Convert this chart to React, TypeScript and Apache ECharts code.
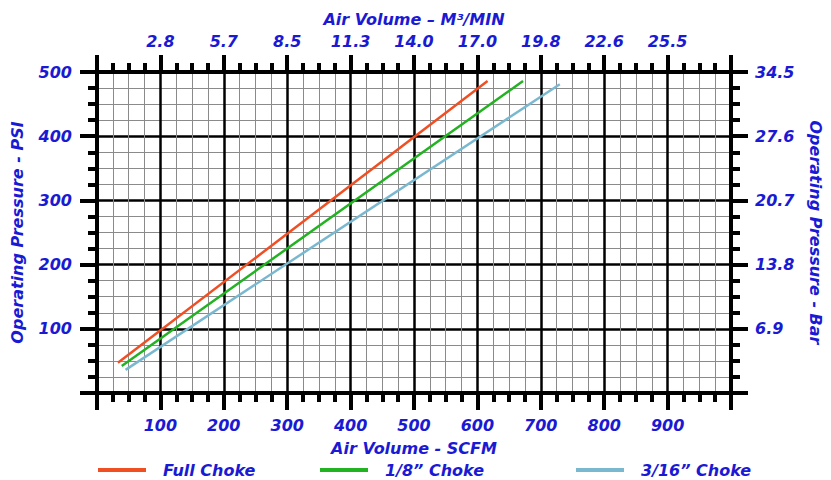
import React, { useEffect, useRef } from "react";
import * as echarts from "echarts";

const scfmTicks = [100, 200, 300, 400, 500, 600, 700, 800, 900];
const m3Labels = ["2.8", "5.7", "8.5", "11.3", "14.0", "17.0", "19.8", "22.6", "25.5"];
const psiTicks = [100, 200, 300, 400, 500];
const barLabels = ["6.9", "13.8", "20.7", "27.6", "34.5"];

const seriesNames = ["Full Choke", "1/8\u201D Choke", "3/16\u201D Choke"];
const seriesColors = ["#f04e23", "#22b222", "#7ab8d0"];
const fullChoke = [[33, 47], [616, 486]];
const eighthChoke = [[39, 42], [672, 486]];
const sixteenthChoke = [[45, 36], [730, 481]];

const BLUE = "#1a1ad4";
const FONT = "DejaVu Sans";

function App() {
  const ref = useRef<HTMLDivElement>(null);
  useEffect(() => {
    if (!ref.current) return;
    document.body.style.margin = "0";
    document.body.style.overflow = "hidden";
    const chart = echarts.init(ref.current, null, { renderer: "svg" });
    const labelStyle = {
      color: BLUE,
      fontFamily: FONT,
      fontWeight: "bold",
      fontStyle: "italic",
      fontSize: 16,
    };
    const axisCommon = (showGrid: boolean) => ({
      type: "value",
      axisLine: { show: true, onZero: false, lineStyle: { color: "#000", width: 4 } },
      axisTick: { show: true, length: 17, lineStyle: { color: "#000", width: 4 } },
      minorTick: { show: true, splitNumber: 4, length: 9, lineStyle: { color: "#000", width: 4 } },
      splitLine: { show: showGrid, lineStyle: { color: "#000", width: 2.5 } },
      minorSplitLine: { show: showGrid, lineStyle: { color: "#8a8a8a", width: 1 } },
      nameLocation: "middle",
      nameTextStyle: { ...labelStyle },
    });
    const option: any = {
      animation: false,
      backgroundColor: "#fff",
      grid: { left: 97, top: 72, width: 640, height: 321, containLabel: false },
      legend: seriesNames.map((n, i) => ({
        data: [n],
        left: [98, 320, 576][i],
        top: 462,
        icon: "rect",
        itemWidth: 48,
        itemHeight: 4,
        itemGap: 0,
        padding: 0,
        textStyle: { ...labelStyle, padding: [0, 0, 0, 12] },
      })),
      xAxis: [
        {
          ...axisCommon(true),
          position: "bottom",
          min: 0,
          max: 1000,
          interval: 100,
          name: "Air Volume - SCFM",
          nameGap: 47,
          axisLabel: {
            ...labelStyle,
            margin: 24,
            formatter: (v: number) => (scfmTicks.indexOf(v) >= 0 ? String(v) : ""),
          },
        },
        {
          ...axisCommon(false),
          position: "top",
          min: 0,
          max: 1000,
          interval: 100,
          name: "Air Volume \u2013 M\u00B3/MIN",
          nameGap: 45,
          axisLabel: {
            ...labelStyle,
            margin: 23,
            formatter: (v: number) => {
              const i = scfmTicks.indexOf(v);
              return i >= 0 ? m3Labels[i] : "";
            },
          },
        },
      ],
      yAxis: [
        {
          ...axisCommon(true),
          position: "left",
          min: 0,
          max: 500,
          interval: 100,
          name: "Operating Pressure - PSI",
          nameGap: 72,
          axisLabel: {
            ...labelStyle,
            margin: 25,
            formatter: (v: number) => (psiTicks.indexOf(v) >= 0 ? String(v) : ""),
          },
        },
        {
          ...axisCommon(false),
          position: "right",
          min: 0,
          max: 500,
          interval: 100,
          name: "Operating Pressure - Bar",
          nameGap: 76,
          nameRotate: -90,
          axisLabel: {
            ...labelStyle,
            margin: 24,
            formatter: (v: number) => {
              const i = psiTicks.indexOf(v);
              return i >= 0 ? barLabels[i] : "";
            },
          },
        },
      ],
      series: [fullChoke, eighthChoke, sixteenthChoke].map((d, i) => ({
        name: seriesNames[i],
        type: "line",
        xAxisIndex: 0,
        yAxisIndex: 0,
        data: d,
        symbol: "none",
        color: seriesColors[i],
        lineStyle: { color: seriesColors[i], width: 2.5 },
        z: 5,
      })),
    };
    chart.setOption(option);
    return () => chart.dispose();
  }, []);
  return (
    <div
      ref={ref}
      style={{ position: "fixed", left: 0, top: 0, width: 831, height: 480, overflow: "hidden" }}
    />
  );
}

export default App;
